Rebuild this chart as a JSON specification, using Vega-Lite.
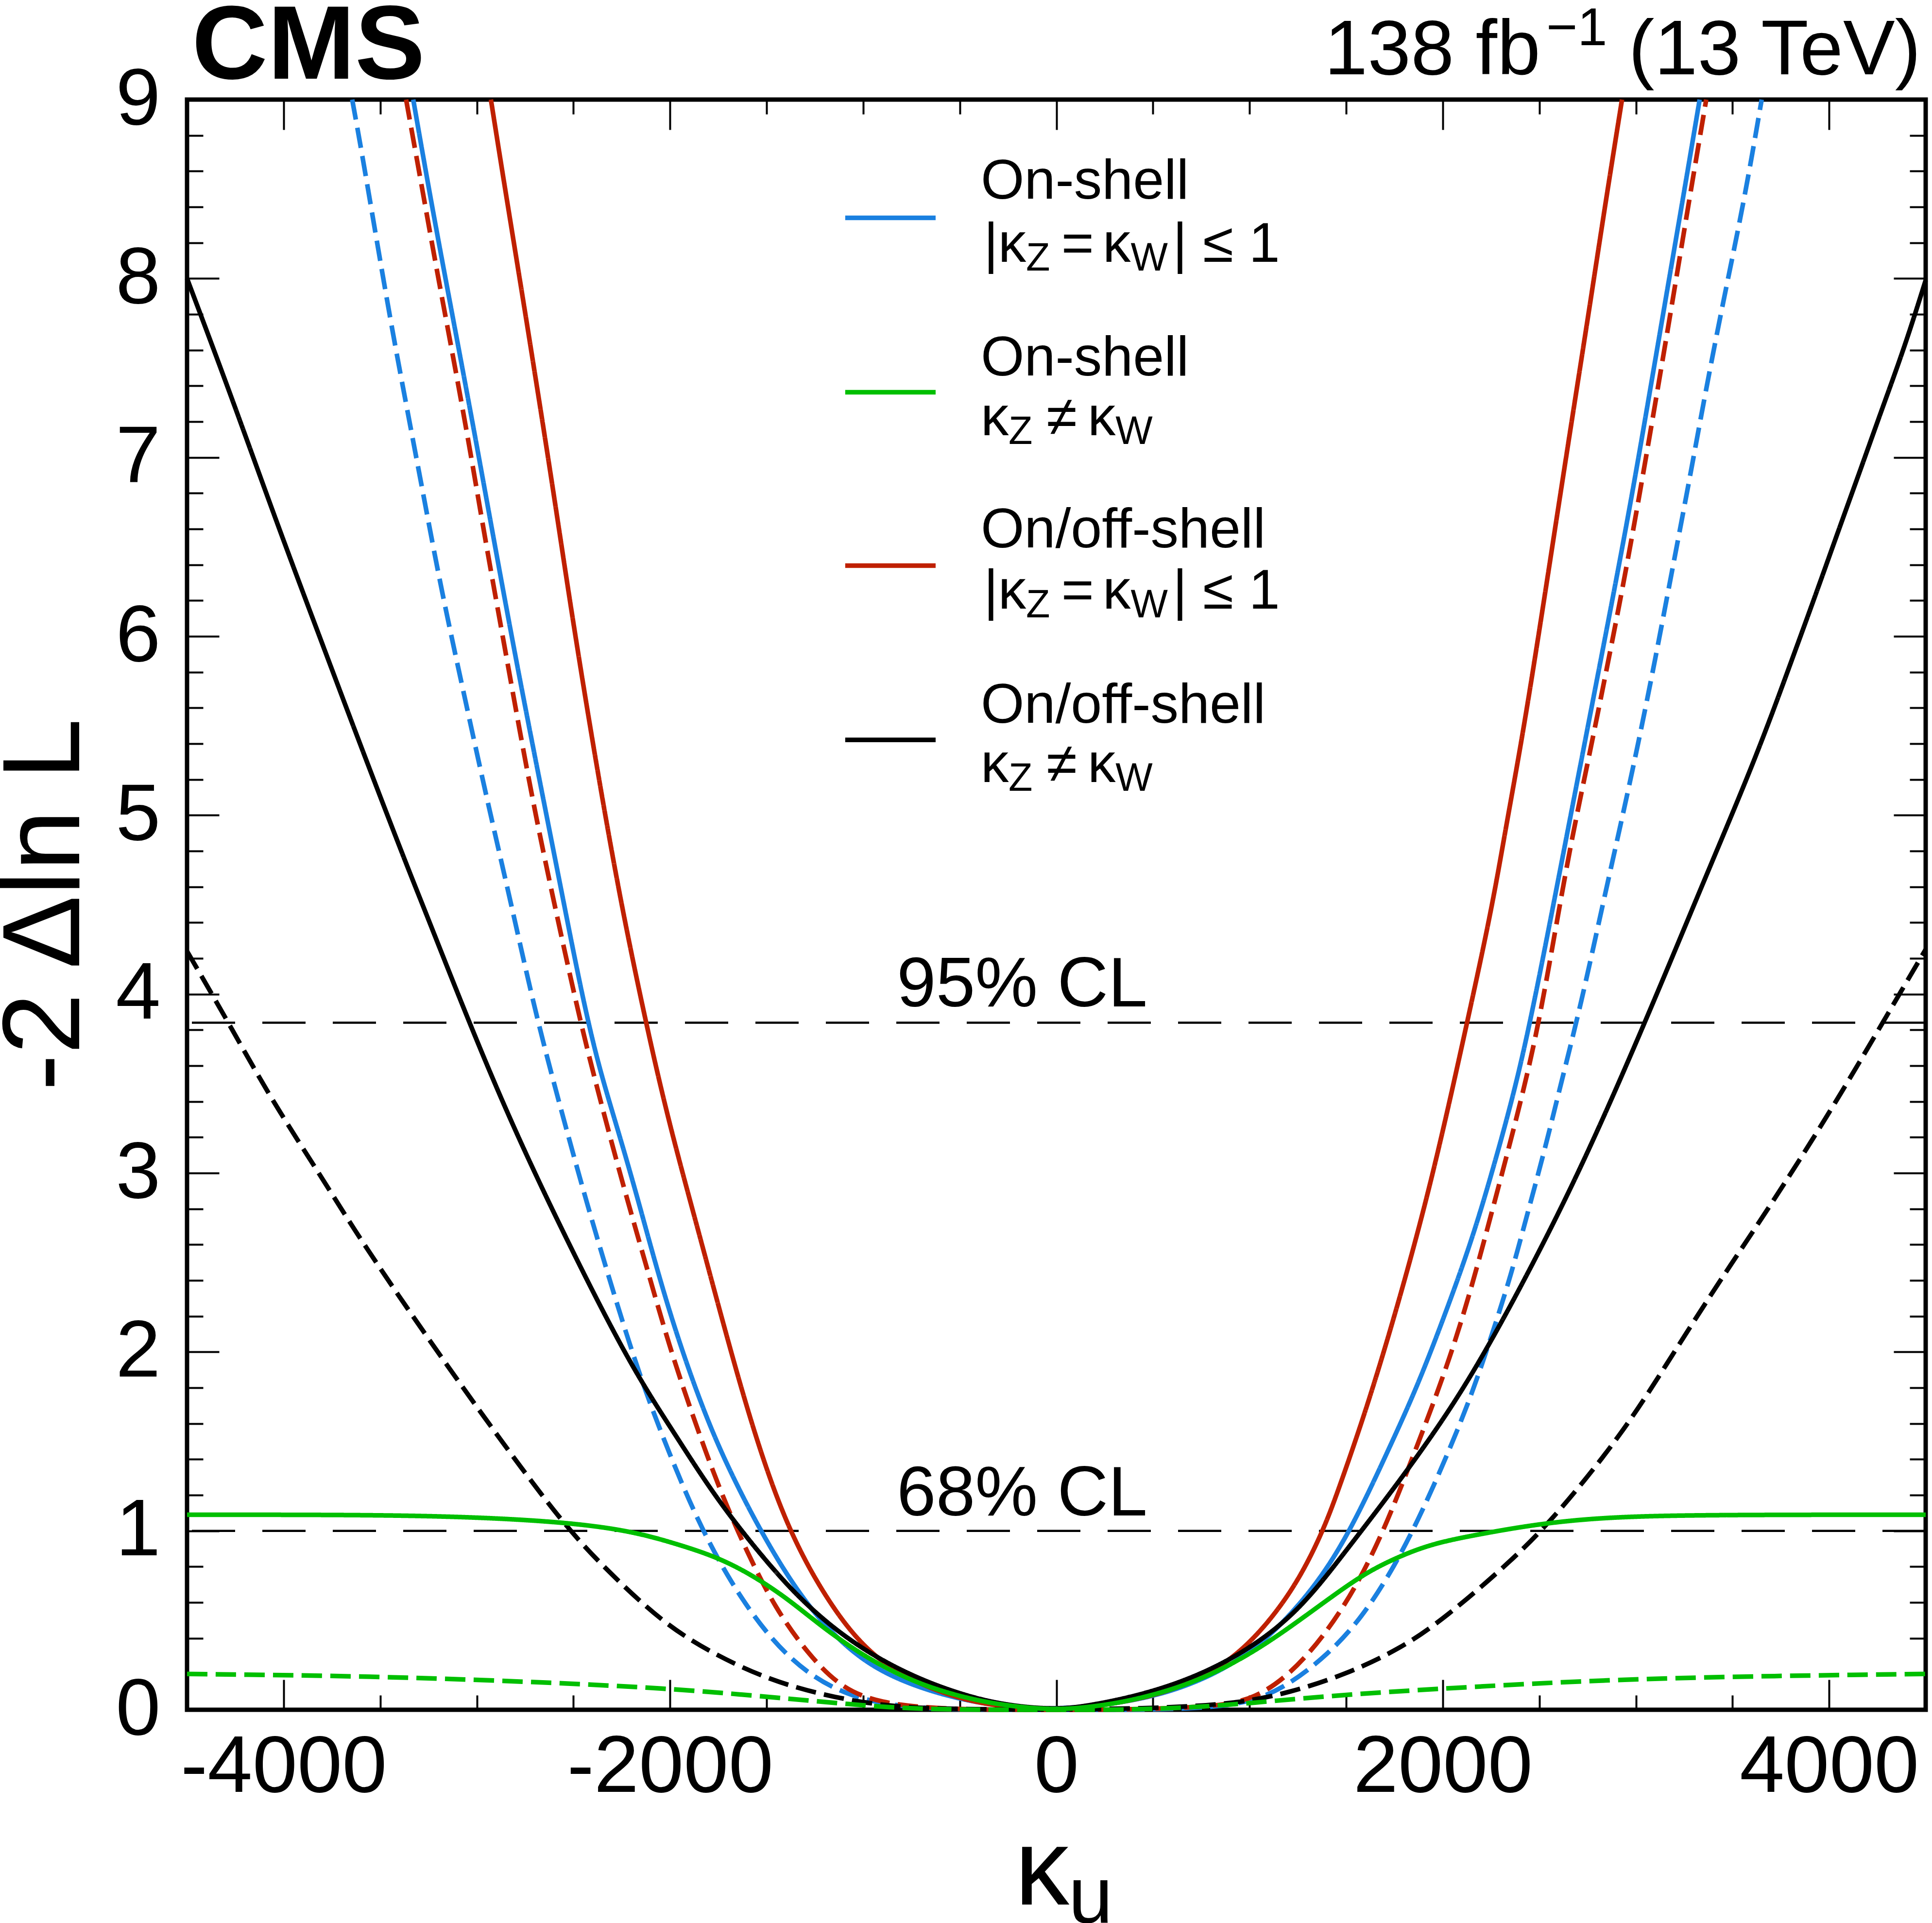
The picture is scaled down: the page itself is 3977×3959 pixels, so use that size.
{
  "$schema": "https://vega.github.io/schema/vega-lite/v6.json",
  "autosize": {"type": "none"},
  "padding": {"left": 385, "top": 205, "right": 13, "bottom": 439},
  "width": 3579,
  "height": 3315,
  "background": "white",
  "config": {
    "view": {"stroke": "black", "strokeWidth": 9},
    "font": "Liberation Sans"
  },
  "datasets": {
    "curves": [
      {"series": "onshell_eq", "kind": "observed", "k": -3329, "v": 9.0},
      {"series": "onshell_eq", "kind": "observed", "k": -3237, "v": 8.43},
      {"series": "onshell_eq", "kind": "observed", "k": -3122, "v": 7.77},
      {"series": "onshell_eq", "kind": "observed", "k": -3007, "v": 7.11},
      {"series": "onshell_eq", "kind": "observed", "k": -2892, "v": 6.42},
      {"series": "onshell_eq", "kind": "observed", "k": -2778, "v": 5.76},
      {"series": "onshell_eq", "kind": "observed", "k": -2663, "v": 5.13},
      {"series": "onshell_eq", "kind": "observed", "k": -2548, "v": 4.5},
      {"series": "onshell_eq", "kind": "observed", "k": -2462, "v": 4.03},
      {"series": "onshell_eq", "kind": "observed", "k": -2376, "v": 3.62},
      {"series": "onshell_eq", "kind": "observed", "k": -2275, "v": 3.26},
      {"series": "onshell_eq", "kind": "observed", "k": -2175, "v": 2.89},
      {"series": "onshell_eq", "kind": "observed", "k": -2060, "v": 2.43},
      {"series": "onshell_eq", "kind": "observed", "k": -1946, "v": 2.03},
      {"series": "onshell_eq", "kind": "observed", "k": -1802, "v": 1.6},
      {"series": "onshell_eq", "kind": "observed", "k": -1658, "v": 1.26},
      {"series": "onshell_eq", "kind": "observed", "k": -1486, "v": 0.91},
      {"series": "onshell_eq", "kind": "observed", "k": -1285, "v": 0.57},
      {"series": "onshell_eq", "kind": "observed", "k": -1055, "v": 0.31},
      {"series": "onshell_eq", "kind": "observed", "k": -826, "v": 0.166},
      {"series": "onshell_eq", "kind": "observed", "k": -539, "v": 0.066},
      {"series": "onshell_eq", "kind": "observed", "k": -280, "v": 0.017},
      {"series": "onshell_eq", "kind": "observed", "k": 0, "v": 0},
      {"series": "onshell_eq", "kind": "observed", "k": 344, "v": 0.037},
      {"series": "onshell_eq", "kind": "observed", "k": 632, "v": 0.11},
      {"series": "onshell_eq", "kind": "observed", "k": 919, "v": 0.25},
      {"series": "onshell_eq", "kind": "observed", "k": 1148, "v": 0.45},
      {"series": "onshell_eq", "kind": "observed", "k": 1378, "v": 0.74},
      {"series": "onshell_eq", "kind": "observed", "k": 1550, "v": 1.06},
      {"series": "onshell_eq", "kind": "observed", "k": 1722, "v": 1.46},
      {"series": "onshell_eq", "kind": "observed", "k": 1866, "v": 1.8},
      {"series": "onshell_eq", "kind": "observed", "k": 2009, "v": 2.2},
      {"series": "onshell_eq", "kind": "observed", "k": 2153, "v": 2.63},
      {"series": "onshell_eq", "kind": "observed", "k": 2268, "v": 3.05},
      {"series": "onshell_eq", "kind": "observed", "k": 2382, "v": 3.5},
      {"series": "onshell_eq", "kind": "observed", "k": 2469, "v": 3.93},
      {"series": "onshell_eq", "kind": "observed", "k": 2555, "v": 4.4},
      {"series": "onshell_eq", "kind": "observed", "k": 2641, "v": 4.88},
      {"series": "onshell_eq", "kind": "observed", "k": 2727, "v": 5.36},
      {"series": "onshell_eq", "kind": "observed", "k": 2813, "v": 5.84},
      {"series": "onshell_eq", "kind": "observed", "k": 2899, "v": 6.32},
      {"series": "onshell_eq", "kind": "observed", "k": 2985, "v": 6.82},
      {"series": "onshell_eq", "kind": "observed", "k": 3071, "v": 7.36},
      {"series": "onshell_eq", "kind": "observed", "k": 3158, "v": 7.91},
      {"series": "onshell_eq", "kind": "observed", "k": 3244, "v": 8.45},
      {"series": "onshell_eq", "kind": "observed", "k": 3330, "v": 9.0},

      {"series": "onshell_eq", "kind": "expected", "k": -3645, "v": 9.0},
      {"series": "onshell_eq", "kind": "expected", "k": -3596, "v": 8.71},
      {"series": "onshell_eq", "kind": "expected", "k": -3524, "v": 8.25},
      {"series": "onshell_eq", "kind": "expected", "k": -3438, "v": 7.71},
      {"series": "onshell_eq", "kind": "expected", "k": -3352, "v": 7.22},
      {"series": "onshell_eq", "kind": "expected", "k": -3266, "v": 6.73},
      {"series": "onshell_eq", "kind": "expected", "k": -3180, "v": 6.24},
      {"series": "onshell_eq", "kind": "expected", "k": -3065, "v": 5.67},
      {"series": "onshell_eq", "kind": "expected", "k": -2950, "v": 5.1},
      {"series": "onshell_eq", "kind": "expected", "k": -2821, "v": 4.5},
      {"series": "onshell_eq", "kind": "expected", "k": -2692, "v": 3.87},
      {"series": "onshell_eq", "kind": "expected", "k": -2548, "v": 3.29},
      {"series": "onshell_eq", "kind": "expected", "k": -2433, "v": 2.84},
      {"series": "onshell_eq", "kind": "expected", "k": -2290, "v": 2.32},
      {"series": "onshell_eq", "kind": "expected", "k": -2146, "v": 1.83},
      {"series": "onshell_eq", "kind": "expected", "k": -2003, "v": 1.43},
      {"series": "onshell_eq", "kind": "expected", "k": -1859, "v": 1.06},
      {"series": "onshell_eq", "kind": "expected", "k": -1687, "v": 0.71},
      {"series": "onshell_eq", "kind": "expected", "k": -1486, "v": 0.4},
      {"series": "onshell_eq", "kind": "expected", "k": -1285, "v": 0.195},
      {"series": "onshell_eq", "kind": "expected", "k": -1055, "v": 0.066},
      {"series": "onshell_eq", "kind": "expected", "k": -768, "v": 0.009},
      {"series": "onshell_eq", "kind": "expected", "k": -400, "v": 0},
      {"series": "onshell_eq", "kind": "expected", "k": 0, "v": 0},
      {"series": "onshell_eq", "kind": "expected", "k": 400, "v": 0},
      {"series": "onshell_eq", "kind": "expected", "k": 718, "v": 0.006},
      {"series": "onshell_eq", "kind": "expected", "k": 1005, "v": 0.037},
      {"series": "onshell_eq", "kind": "expected", "k": 1206, "v": 0.14},
      {"series": "onshell_eq", "kind": "expected", "k": 1407, "v": 0.31},
      {"series": "onshell_eq", "kind": "expected", "k": 1579, "v": 0.51},
      {"series": "onshell_eq", "kind": "expected", "k": 1751, "v": 0.8},
      {"series": "onshell_eq", "kind": "expected", "k": 1895, "v": 1.11},
      {"series": "onshell_eq", "kind": "expected", "k": 2038, "v": 1.46},
      {"series": "onshell_eq", "kind": "expected", "k": 2153, "v": 1.77},
      {"series": "onshell_eq", "kind": "expected", "k": 2253, "v": 2.09},
      {"series": "onshell_eq", "kind": "expected", "k": 2354, "v": 2.43},
      {"series": "onshell_eq", "kind": "expected", "k": 2440, "v": 2.78},
      {"series": "onshell_eq", "kind": "expected", "k": 2526, "v": 3.12},
      {"series": "onshell_eq", "kind": "expected", "k": 2612, "v": 3.5},
      {"series": "onshell_eq", "kind": "expected", "k": 2713, "v": 3.93},
      {"series": "onshell_eq", "kind": "expected", "k": 2828, "v": 4.5},
      {"series": "onshell_eq", "kind": "expected", "k": 2928, "v": 4.98},
      {"series": "onshell_eq", "kind": "expected", "k": 3014, "v": 5.41},
      {"series": "onshell_eq", "kind": "expected", "k": 3100, "v": 5.87},
      {"series": "onshell_eq", "kind": "expected", "k": 3186, "v": 6.36},
      {"series": "onshell_eq", "kind": "expected", "k": 3273, "v": 6.85},
      {"series": "onshell_eq", "kind": "expected", "k": 3359, "v": 7.36},
      {"series": "onshell_eq", "kind": "expected", "k": 3459, "v": 7.91},
      {"series": "onshell_eq", "kind": "expected", "k": 3560, "v": 8.43},
      {"series": "onshell_eq", "kind": "expected", "k": 3651, "v": 9.0},

      {"series": "onoff_eq", "kind": "observed", "k": -2927, "v": 9.0},
      {"series": "onoff_eq", "kind": "observed", "k": -2864, "v": 8.57},
      {"series": "onoff_eq", "kind": "observed", "k": -2778, "v": 8.0},
      {"series": "onoff_eq", "kind": "observed", "k": -2692, "v": 7.42},
      {"series": "onoff_eq", "kind": "observed", "k": -2605, "v": 6.82},
      {"series": "onoff_eq", "kind": "observed", "k": -2519, "v": 6.2},
      {"series": "onoff_eq", "kind": "observed", "k": -2433, "v": 5.62},
      {"series": "onoff_eq", "kind": "observed", "k": -2347, "v": 5.07},
      {"series": "onoff_eq", "kind": "observed", "k": -2247, "v": 4.47},
      {"series": "onoff_eq", "kind": "observed", "k": -2117, "v": 3.8},
      {"series": "onoff_eq", "kind": "observed", "k": -2003, "v": 3.27},
      {"series": "onoff_eq", "kind": "observed", "k": -1859, "v": 2.7},
      {"series": "onoff_eq", "kind": "observed", "k": -1715, "v": 2.12},
      {"series": "onoff_eq", "kind": "observed", "k": -1572, "v": 1.57},
      {"series": "onoff_eq", "kind": "observed", "k": -1400, "v": 1.03},
      {"series": "onoff_eq", "kind": "observed", "k": -1199, "v": 0.63},
      {"series": "onoff_eq", "kind": "observed", "k": -998, "v": 0.34},
      {"series": "onoff_eq", "kind": "observed", "k": -768, "v": 0.166},
      {"series": "onoff_eq", "kind": "observed", "k": -481, "v": 0.052},
      {"series": "onoff_eq", "kind": "observed", "k": -252, "v": 0.014},
      {"series": "onoff_eq", "kind": "observed", "k": 0, "v": 0},
      {"series": "onoff_eq", "kind": "observed", "k": 287, "v": 0.029},
      {"series": "onoff_eq", "kind": "observed", "k": 574, "v": 0.095},
      {"series": "onoff_eq", "kind": "observed", "k": 832, "v": 0.22},
      {"series": "onoff_eq", "kind": "observed", "k": 1033, "v": 0.4},
      {"series": "onoff_eq", "kind": "observed", "k": 1234, "v": 0.68},
      {"series": "onoff_eq", "kind": "observed", "k": 1378, "v": 0.99},
      {"series": "onoff_eq", "kind": "observed", "k": 1464, "v": 1.24},
      {"series": "onoff_eq", "kind": "observed", "k": 1608, "v": 1.69},
      {"series": "onoff_eq", "kind": "observed", "k": 1751, "v": 2.2},
      {"series": "onoff_eq", "kind": "observed", "k": 1895, "v": 2.76},
      {"series": "onoff_eq", "kind": "observed", "k": 2009, "v": 3.27},
      {"series": "onoff_eq", "kind": "observed", "k": 2124, "v": 3.83},
      {"series": "onoff_eq", "kind": "observed", "k": 2253, "v": 4.47},
      {"series": "onoff_eq", "kind": "observed", "k": 2325, "v": 4.92},
      {"series": "onoff_eq", "kind": "observed", "k": 2411, "v": 5.43},
      {"series": "onoff_eq", "kind": "observed", "k": 2497, "v": 6.01},
      {"series": "onoff_eq", "kind": "observed", "k": 2584, "v": 6.62},
      {"series": "onoff_eq", "kind": "observed", "k": 2670, "v": 7.22},
      {"series": "onoff_eq", "kind": "observed", "k": 2756, "v": 7.81},
      {"series": "onoff_eq", "kind": "observed", "k": 2842, "v": 8.42},
      {"series": "onoff_eq", "kind": "observed", "k": 2928, "v": 9.0},

      {"series": "onoff_eq", "kind": "expected", "k": -3366, "v": 9.0},
      {"series": "onoff_eq", "kind": "expected", "k": -3294, "v": 8.57},
      {"series": "onoff_eq", "kind": "expected", "k": -3208, "v": 8.05},
      {"series": "onoff_eq", "kind": "expected", "k": -3122, "v": 7.56},
      {"series": "onoff_eq", "kind": "expected", "k": -3036, "v": 7.05},
      {"series": "onoff_eq", "kind": "expected", "k": -2950, "v": 6.5},
      {"series": "onoff_eq", "kind": "expected", "k": -2864, "v": 5.99},
      {"series": "onoff_eq", "kind": "expected", "k": -2778, "v": 5.47},
      {"series": "onoff_eq", "kind": "expected", "k": -2692, "v": 4.98},
      {"series": "onoff_eq", "kind": "expected", "k": -2598, "v": 4.5},
      {"series": "onoff_eq", "kind": "expected", "k": -2462, "v": 3.83},
      {"series": "onoff_eq", "kind": "expected", "k": -2347, "v": 3.35},
      {"series": "onoff_eq", "kind": "expected", "k": -2232, "v": 2.89},
      {"series": "onoff_eq", "kind": "expected", "k": -2117, "v": 2.46},
      {"series": "onoff_eq", "kind": "expected", "k": -2003, "v": 2.03},
      {"series": "onoff_eq", "kind": "expected", "k": -1888, "v": 1.66},
      {"series": "onoff_eq", "kind": "expected", "k": -1744, "v": 1.23},
      {"series": "onoff_eq", "kind": "expected", "k": -1601, "v": 0.88},
      {"series": "onoff_eq", "kind": "expected", "k": -1457, "v": 0.57},
      {"series": "onoff_eq", "kind": "expected", "k": -1285, "v": 0.31},
      {"series": "onoff_eq", "kind": "expected", "k": -1113, "v": 0.12},
      {"series": "onoff_eq", "kind": "expected", "k": -912, "v": 0.037},
      {"series": "onoff_eq", "kind": "expected", "k": -625, "v": 0.006},
      {"series": "onoff_eq", "kind": "expected", "k": -300, "v": 0},
      {"series": "onoff_eq", "kind": "expected", "k": 0, "v": 0},
      {"series": "onoff_eq", "kind": "expected", "k": 300, "v": 0},
      {"series": "onoff_eq", "kind": "expected", "k": 832, "v": 0.014},
      {"series": "onoff_eq", "kind": "expected", "k": 1033, "v": 0.066},
      {"series": "onoff_eq", "kind": "expected", "k": 1206, "v": 0.195},
      {"series": "onoff_eq", "kind": "expected", "k": 1378, "v": 0.4},
      {"series": "onoff_eq", "kind": "expected", "k": 1550, "v": 0.68},
      {"series": "onoff_eq", "kind": "expected", "k": 1694, "v": 1.0},
      {"series": "onoff_eq", "kind": "expected", "k": 1808, "v": 1.31},
      {"series": "onoff_eq", "kind": "expected", "k": 1923, "v": 1.63},
      {"series": "onoff_eq", "kind": "expected", "k": 2038, "v": 1.97},
      {"series": "onoff_eq", "kind": "expected", "k": 2139, "v": 2.32},
      {"series": "onoff_eq", "kind": "expected", "k": 2239, "v": 2.72},
      {"series": "onoff_eq", "kind": "expected", "k": 2325, "v": 3.07},
      {"series": "onoff_eq", "kind": "expected", "k": 2411, "v": 3.43},
      {"series": "onoff_eq", "kind": "expected", "k": 2497, "v": 3.83},
      {"series": "onoff_eq", "kind": "expected", "k": 2598, "v": 4.45},
      {"series": "onoff_eq", "kind": "expected", "k": 2670, "v": 4.88},
      {"series": "onoff_eq", "kind": "expected", "k": 2756, "v": 5.32},
      {"series": "onoff_eq", "kind": "expected", "k": 2842, "v": 5.78},
      {"series": "onoff_eq", "kind": "expected", "k": 2928, "v": 6.25},
      {"series": "onoff_eq", "kind": "expected", "k": 3014, "v": 6.76},
      {"series": "onoff_eq", "kind": "expected", "k": 3100, "v": 7.3},
      {"series": "onoff_eq", "kind": "expected", "k": 3186, "v": 7.85},
      {"series": "onoff_eq", "kind": "expected", "k": 3273, "v": 8.42},
      {"series": "onoff_eq", "kind": "expected", "k": 3364, "v": 9.0},

      {"series": "onoff_neq", "kind": "observed", "k": -4500, "v": 8.0},
      {"series": "onoff_neq", "kind": "observed", "k": -4270, "v": 7.34},
      {"series": "onoff_neq", "kind": "observed", "k": -4041, "v": 6.65},
      {"series": "onoff_neq", "kind": "observed", "k": -3811, "v": 5.99},
      {"series": "onoff_neq", "kind": "observed", "k": -3581, "v": 5.33},
      {"series": "onoff_neq", "kind": "observed", "k": -3352, "v": 4.69},
      {"series": "onoff_neq", "kind": "observed", "k": -3273, "v": 4.48},
      {"series": "onoff_neq", "kind": "observed", "k": -3036, "v": 3.83},
      {"series": "onoff_neq", "kind": "observed", "k": -2806, "v": 3.24},
      {"series": "onoff_neq", "kind": "observed", "k": -2519, "v": 2.59},
      {"series": "onoff_neq", "kind": "observed", "k": -2203, "v": 1.92},
      {"series": "onoff_neq", "kind": "observed", "k": -1974, "v": 1.54},
      {"series": "onoff_neq", "kind": "observed", "k": -1773, "v": 1.2},
      {"series": "onoff_neq", "kind": "observed", "k": -1543, "v": 0.88},
      {"series": "onoff_neq", "kind": "observed", "k": -1314, "v": 0.6},
      {"series": "onoff_neq", "kind": "observed", "k": -1055, "v": 0.37},
      {"series": "onoff_neq", "kind": "observed", "k": -768, "v": 0.195},
      {"series": "onoff_neq", "kind": "observed", "k": -481, "v": 0.08},
      {"series": "onoff_neq", "kind": "observed", "k": -252, "v": 0.023},
      {"series": "onoff_neq", "kind": "observed", "k": 0, "v": 0},
      {"series": "onoff_neq", "kind": "observed", "k": 172, "v": 0.023},
      {"series": "onoff_neq", "kind": "observed", "k": 431, "v": 0.08},
      {"series": "onoff_neq", "kind": "observed", "k": 718, "v": 0.18},
      {"series": "onoff_neq", "kind": "observed", "k": 1005, "v": 0.34},
      {"series": "onoff_neq", "kind": "observed", "k": 1263, "v": 0.56},
      {"series": "onoff_neq", "kind": "observed", "k": 1493, "v": 0.88},
      {"series": "onoff_neq", "kind": "observed", "k": 1722, "v": 1.2},
      {"series": "onoff_neq", "kind": "observed", "k": 1952, "v": 1.54},
      {"series": "onoff_neq", "kind": "observed", "k": 2182, "v": 1.92},
      {"series": "onoff_neq", "kind": "observed", "k": 2497, "v": 2.55},
      {"series": "onoff_neq", "kind": "observed", "k": 2756, "v": 3.12},
      {"series": "onoff_neq", "kind": "observed", "k": 3043, "v": 3.83},
      {"series": "onoff_neq", "kind": "observed", "k": 3301, "v": 4.5},
      {"series": "onoff_neq", "kind": "observed", "k": 3445, "v": 4.87},
      {"series": "onoff_neq", "kind": "observed", "k": 3588, "v": 5.24},
      {"series": "onoff_neq", "kind": "observed", "k": 3703, "v": 5.56},
      {"series": "onoff_neq", "kind": "observed", "k": 3818, "v": 5.9},
      {"series": "onoff_neq", "kind": "observed", "k": 3933, "v": 6.24},
      {"series": "onoff_neq", "kind": "observed", "k": 4048, "v": 6.59},
      {"series": "onoff_neq", "kind": "observed", "k": 4162, "v": 6.93},
      {"series": "onoff_neq", "kind": "observed", "k": 4277, "v": 7.28},
      {"series": "onoff_neq", "kind": "observed", "k": 4392, "v": 7.62},
      {"series": "onoff_neq", "kind": "observed", "k": 4500, "v": 7.99},

      {"series": "onoff_neq", "kind": "expected", "k": -4500, "v": 4.24},
      {"series": "onoff_neq", "kind": "expected", "k": -4285, "v": 3.84},
      {"series": "onoff_neq", "kind": "expected", "k": -4069, "v": 3.42},
      {"series": "onoff_neq", "kind": "expected", "k": -3811, "v": 2.99},
      {"series": "onoff_neq", "kind": "expected", "k": -3639, "v": 2.69},
      {"series": "onoff_neq", "kind": "expected", "k": -3409, "v": 2.32},
      {"series": "onoff_neq", "kind": "expected", "k": -3151, "v": 1.92},
      {"series": "onoff_neq", "kind": "expected", "k": -2892, "v": 1.53},
      {"series": "onoff_neq", "kind": "expected", "k": -2548, "v": 1.03},
      {"series": "onoff_neq", "kind": "expected", "k": -2318, "v": 0.77},
      {"series": "onoff_neq", "kind": "expected", "k": -2031, "v": 0.48},
      {"series": "onoff_neq", "kind": "expected", "k": -1773, "v": 0.31},
      {"series": "onoff_neq", "kind": "expected", "k": -1486, "v": 0.166},
      {"series": "onoff_neq", "kind": "expected", "k": -1199, "v": 0.08},
      {"series": "onoff_neq", "kind": "expected", "k": -912, "v": 0.023},
      {"series": "onoff_neq", "kind": "expected", "k": -600, "v": 0.003},
      {"series": "onoff_neq", "kind": "expected", "k": 0, "v": 0},
      {"series": "onoff_neq", "kind": "expected", "k": 574, "v": 0.009},
      {"series": "onoff_neq", "kind": "expected", "k": 947, "v": 0.037},
      {"series": "onoff_neq", "kind": "expected", "k": 1206, "v": 0.095},
      {"series": "onoff_neq", "kind": "expected", "k": 1493, "v": 0.195},
      {"series": "onoff_neq", "kind": "expected", "k": 1780, "v": 0.34},
      {"series": "onoff_neq", "kind": "expected", "k": 2009, "v": 0.51},
      {"series": "onoff_neq", "kind": "expected", "k": 2354, "v": 0.83},
      {"series": "onoff_neq", "kind": "expected", "k": 2584, "v": 1.08},
      {"series": "onoff_neq", "kind": "expected", "k": 2928, "v": 1.54},
      {"series": "onoff_neq", "kind": "expected", "k": 3158, "v": 1.93},
      {"series": "onoff_neq", "kind": "expected", "k": 3387, "v": 2.32},
      {"series": "onoff_neq", "kind": "expected", "k": 3617, "v": 2.69},
      {"series": "onoff_neq", "kind": "expected", "k": 3847, "v": 3.07},
      {"series": "onoff_neq", "kind": "expected", "k": 4076, "v": 3.47},
      {"series": "onoff_neq", "kind": "expected", "k": 4277, "v": 3.84},
      {"series": "onoff_neq", "kind": "expected", "k": 4500, "v": 4.25},

      {"series": "onshell_neq", "kind": "observed", "k": -4500, "v": 1.09},
      {"series": "onshell_neq", "kind": "observed", "k": -3639, "v": 1.09},
      {"series": "onshell_neq", "kind": "observed", "k": -3065, "v": 1.08},
      {"series": "onshell_neq", "kind": "observed", "k": -2548, "v": 1.05},
      {"series": "onshell_neq", "kind": "observed", "k": -2203, "v": 1.0},
      {"series": "onshell_neq", "kind": "observed", "k": -1974, "v": 0.93},
      {"series": "onshell_neq", "kind": "observed", "k": -1773, "v": 0.86},
      {"series": "onshell_neq", "kind": "observed", "k": -1601, "v": 0.77},
      {"series": "onshell_neq", "kind": "observed", "k": -1400, "v": 0.63},
      {"series": "onshell_neq", "kind": "observed", "k": -1199, "v": 0.45},
      {"series": "onshell_neq", "kind": "observed", "k": -969, "v": 0.28},
      {"series": "onshell_neq", "kind": "observed", "k": -711, "v": 0.14},
      {"series": "onshell_neq", "kind": "observed", "k": -424, "v": 0.052},
      {"series": "onshell_neq", "kind": "observed", "k": -194, "v": 0.014},
      {"series": "onshell_neq", "kind": "observed", "k": 0, "v": 0},
      {"series": "onshell_neq", "kind": "observed", "k": 172, "v": 0.014},
      {"series": "onshell_neq", "kind": "observed", "k": 402, "v": 0.052},
      {"series": "onshell_neq", "kind": "observed", "k": 718, "v": 0.15},
      {"series": "onshell_neq", "kind": "observed", "k": 1005, "v": 0.31},
      {"series": "onshell_neq", "kind": "observed", "k": 1234, "v": 0.48},
      {"series": "onshell_neq", "kind": "observed", "k": 1435, "v": 0.64},
      {"series": "onshell_neq", "kind": "observed", "k": 1608, "v": 0.77},
      {"series": "onshell_neq", "kind": "observed", "k": 1780, "v": 0.86},
      {"series": "onshell_neq", "kind": "observed", "k": 1952, "v": 0.93},
      {"series": "onshell_neq", "kind": "observed", "k": 2182, "v": 0.98},
      {"series": "onshell_neq", "kind": "observed", "k": 2497, "v": 1.04},
      {"series": "onshell_neq", "kind": "observed", "k": 2871, "v": 1.08},
      {"series": "onshell_neq", "kind": "observed", "k": 3445, "v": 1.09},
      {"series": "onshell_neq", "kind": "observed", "k": 4500, "v": 1.09},

      {"series": "onshell_neq", "kind": "expected", "k": -4500, "v": 0.2},
      {"series": "onshell_neq", "kind": "expected", "k": -3639, "v": 0.19},
      {"series": "onshell_neq", "kind": "expected", "k": -2778, "v": 0.16},
      {"series": "onshell_neq", "kind": "expected", "k": -2003, "v": 0.12},
      {"series": "onshell_neq", "kind": "expected", "k": -1486, "v": 0.072},
      {"series": "onshell_neq", "kind": "expected", "k": -1055, "v": 0.029},
      {"series": "onshell_neq", "kind": "expected", "k": -768, "v": 0.006},
      {"series": "onshell_neq", "kind": "expected", "k": -400, "v": 0},
      {"series": "onshell_neq", "kind": "expected", "k": 0, "v": 0},
      {"series": "onshell_neq", "kind": "expected", "k": 400, "v": 0},
      {"series": "onshell_neq", "kind": "expected", "k": 718, "v": 0.014},
      {"series": "onshell_neq", "kind": "expected", "k": 1005, "v": 0.037},
      {"series": "onshell_neq", "kind": "expected", "k": 1435, "v": 0.08},
      {"series": "onshell_neq", "kind": "expected", "k": 2009, "v": 0.12},
      {"series": "onshell_neq", "kind": "expected", "k": 2871, "v": 0.17},
      {"series": "onshell_neq", "kind": "expected", "k": 3732, "v": 0.19},
      {"series": "onshell_neq", "kind": "expected", "k": 4500, "v": 0.2}
    ],
    "cl_lines": [{"v": 1.0}, {"v": 3.84}],
    "cl_text": [
      {"k": -826, "v": 3.93, "t": "95% CL"},
      {"k": -826, "v": 1.086, "t": "68% CL"}
    ],
    "legend_lines": [
      {"series": "onshell_eq", "k": -1093, "k2": -625, "v": 8.339},
      {"series": "onshell_neq", "k": -1093, "k2": -625, "v": 7.364},
      {"series": "onoff_eq", "k": -1093, "k2": -625, "v": 6.395},
      {"series": "onoff_neq", "k": -1093, "k2": -625, "v": 5.421}
    ],
    "legend_text": [
      {"k": -391, "v": 8.445, "t": "On-shell"},
      {"k": -376, "v": 8.092, "t": "|κ"},
      {"k": 26, "v": 8.092, "t": "="},
      {"k": 240, "v": 8.092, "t": "κ"},
      {"k": 602, "v": 8.092, "t": "| ≤ 1"},
      {"k": -391, "v": 7.457, "t": "On-shell"},
      {"k": -391, "v": 7.123, "t": "κ"},
      {"k": -52, "v": 7.123, "t": "≠"},
      {"k": 162, "v": 7.123, "t": "κ"},
      {"k": -391, "v": 6.498, "t": "On/off-shell"},
      {"k": -376, "v": 6.154, "t": "|κ"},
      {"k": 26, "v": 6.154, "t": "="},
      {"k": 240, "v": 6.154, "t": "κ"},
      {"k": 602, "v": 6.154, "t": "| ≤ 1"},
      {"k": -391, "v": 5.518, "t": "On/off-shell"},
      {"k": -391, "v": 5.185, "t": "κ"},
      {"k": -52, "v": 5.185, "t": "≠"},
      {"k": 162, "v": 5.185, "t": "κ"}
    ],
    "legend_sub": [
      {"k": -157, "v": 8.092, "t": "Z"},
      {"k": 385, "v": 8.092, "t": "W"},
      {"k": -248, "v": 7.123, "t": "Z"},
      {"k": 306, "v": 7.123, "t": "W"},
      {"k": -157, "v": 6.154, "t": "Z"},
      {"k": 385, "v": 6.154, "t": "W"},
      {"k": -248, "v": 5.185, "t": "Z"},
      {"k": 306, "v": 5.185, "t": "W"}
    ],
    "cms": [{"k": -4475, "v": 9.118, "t": "CMS"}],
    "lumi_main": [
      {"k": 2506, "v": 9.142, "t": "138 fb"},
      {"k": 4475, "v": 9.142, "t": "(13 TeV)"}
    ],
    "lumi_sup": [{"k": 2536, "v": 9.305, "t": "−1"}],
    "xtitle_main": [{"k": -215, "v": -1.088, "t": "κ"}],
    "xtitle_sub": [{"k": 62, "v": -1.189, "t": "u"}]
  },
  "resolve": {"axis": {"x": "independent", "y": "independent"}},
  "layer": [
    {
      "data": {"name": "cl_lines"},
      "mark": {"type": "rule", "color": "black", "strokeWidth": 4.5, "strokeDash": [89, 56]},
      "encoding": {
        "y": {"field": "v", "type": "quantitative", "scale": {"domain": [0, 9], "nice": false, "zero": false}, "axis": null}
      }
    },
    {
      "data": {"name": "curves"},
      "mark": {"type": "line", "strokeWidth": 9.5, "interpolate": "basis"},
      "encoding": {
        "x": {
          "field": "k", "type": "quantitative",
          "scale": {"domain": [-4500, 4500], "nice": false, "zero": false},
          "axis": {
            "orient": "bottom",
            "values": [-4000, -3500, -3000, -2500, -2000, -1500, -1000, -500, 0, 500, 1000, 1500, 2000, 2500, 3000, 3500, 4000],
            "domain": false, "grid": false, "title": null,
            "tickColor": "black", "tickWidth": 4,
            "tickSize": {"condition": {"test": "datum.value % 2000 === 0", "value": -62}, "value": -30},
            "labelExpr": "datum.value % 2000 === 0 ? '' + datum.value : ''",
            "labelFont": "Liberation Sans", "labelFontSize": 166, "labelColor": "black",
            "labelPadding": 99, "labelLimit": 0, "labelFlush": false, "labelOverlap": false, "labelBound": false
          }
        },
        "y": {
          "field": "v", "type": "quantitative",
          "scale": {"domain": [0, 9], "nice": false, "zero": false},
          "axis": {
            "orient": "left",
            "values": [0, 0.2, 0.4, 0.6, 0.8, 1, 1.2, 1.4, 1.6, 1.8, 2, 2.2, 2.4, 2.6, 2.8, 3, 3.2, 3.4, 3.6, 3.8, 4, 4.2, 4.4, 4.6, 4.8, 5, 5.2, 5.4, 5.6, 5.8, 6, 6.2, 6.4, 6.6, 6.8, 7, 7.2, 7.4, 7.6, 7.8, 8, 8.2, 8.4, 8.6, 8.8, 9],
            "domain": false, "grid": false,
            "tickColor": "black", "tickWidth": 4,
            "tickSize": {"condition": {"test": "datum.value === round(datum.value)", "value": -66}, "value": -33},
            "labelExpr": "datum.value === round(datum.value) ? '' + datum.value : ''",
            "labelFont": "Liberation Sans", "labelFontSize": 166, "labelColor": "black",
            "labelPadding": 121, "labelLimit": 0, "labelFlush": false, "labelOverlap": false, "labelBound": false,
            "title": "-2 Δln L",
            "titleFont": "Liberation Sans", "titleFontSize": 226, "titleFontWeight": "normal", "titleColor": "black",
            "titleAngle": 270, "titleAlign": "center", "titleBaseline": "alphabetic",
            "titleX": -223, "titleY": 1657, "titleLimit": 0
          }
        },
        "color": {
          "field": "series", "type": "nominal",
          "scale": {"domain": ["onshell_eq", "onshell_neq", "onoff_eq", "onoff_neq"], "range": ["#1A80E0", "#00BF00", "#BF2000", "#000000"]},
          "legend": null
        },
        "strokeDash": {
          "field": "kind", "type": "nominal",
          "scale": {"domain": ["observed", "expected"], "range": [[1, 0], [42, 17]]},
          "legend": null
        }
      }
    },
    {
      "data": {"name": "legend_lines"},
      "mark": {"type": "rule", "strokeWidth": 9.5},
      "encoding": {
        "x": {"field": "k", "type": "quantitative", "axis": null},
        "x2": {"field": "k2"},
        "y": {"field": "v", "type": "quantitative", "axis": null},
        "color": {"field": "series", "type": "nominal", "legend": null}
      }
    },
    {
      "data": {"name": "legend_text"},
      "mark": {"type": "text", "align": "left", "baseline": "alphabetic", "font": "Liberation Sans", "fontSize": 115, "color": "black"},
      "encoding": {
        "x": {"field": "k", "type": "quantitative", "axis": null},
        "y": {"field": "v", "type": "quantitative", "axis": null},
        "text": {"field": "t"}
      }
    },
    {
      "data": {"name": "legend_sub"},
      "mark": {"type": "text", "align": "left", "baseline": "alphabetic", "font": "Liberation Sans", "fontSize": 81, "dy": 18, "color": "black"},
      "encoding": {
        "x": {"field": "k", "type": "quantitative", "axis": null},
        "y": {"field": "v", "type": "quantitative", "axis": null},
        "text": {"field": "t"}
      }
    },
    {
      "data": {"name": "cl_text"},
      "mark": {"type": "text", "align": "left", "baseline": "alphabetic", "font": "Liberation Sans", "fontSize": 145, "color": "black"},
      "encoding": {
        "x": {
          "field": "k", "type": "quantitative",
          "axis": {
            "orient": "top", "labels": false, "domain": false, "grid": false, "title": null,
            "values": [-4000, -3500, -3000, -2500, -2000, -1500, -1000, -500, 0, 500, 1000, 1500, 2000, 2500, 3000, 3500, 4000],
            "tickColor": "black", "tickWidth": 4,
            "tickSize": {"condition": {"test": "datum.value % 2000 === 0", "value": -62}, "value": -30}
          }
        },
        "y": {
          "field": "v", "type": "quantitative",
          "axis": {
            "orient": "right", "labels": false, "domain": false, "grid": false, "title": null,
            "values": [0, 0.2, 0.4, 0.6, 0.8, 1, 1.2, 1.4, 1.6, 1.8, 2, 2.2, 2.4, 2.6, 2.8, 3, 3.2, 3.4, 3.6, 3.8, 4, 4.2, 4.4, 4.6, 4.8, 5, 5.2, 5.4, 5.6, 5.8, 6, 6.2, 6.4, 6.6, 6.8, 7, 7.2, 7.4, 7.6, 7.8, 8, 8.2, 8.4, 8.6, 8.8, 9],
            "tickColor": "black", "tickWidth": 4,
            "tickSize": {"condition": {"test": "datum.value === round(datum.value)", "value": -66}, "value": -33}
          }
        },
        "text": {"field": "t"}
      }
    },
    {
      "data": {"name": "cms"},
      "mark": {"type": "text", "align": "left", "baseline": "alphabetic", "font": "Liberation Sans", "fontWeight": "bold", "fontSize": 216, "color": "black"},
      "encoding": {
        "x": {"field": "k", "type": "quantitative", "axis": null},
        "y": {"field": "v", "type": "quantitative", "axis": null},
        "text": {"field": "t"}
      }
    },
    {
      "data": {"name": "lumi_main"},
      "mark": {"type": "text", "align": "right", "baseline": "alphabetic", "font": "Liberation Sans", "fontSize": 160, "color": "black"},
      "encoding": {
        "x": {"field": "k", "type": "quantitative", "axis": null},
        "y": {"field": "v", "type": "quantitative", "axis": null},
        "text": {"field": "t"}
      }
    },
    {
      "data": {"name": "lumi_sup"},
      "mark": {"type": "text", "align": "left", "baseline": "alphabetic", "font": "Liberation Sans", "fontSize": 110, "color": "black"},
      "encoding": {
        "x": {"field": "k", "type": "quantitative", "axis": null},
        "y": {"field": "v", "type": "quantitative", "axis": null},
        "text": {"field": "t"}
      }
    },
    {
      "data": {"name": "xtitle_main"},
      "mark": {"type": "text", "align": "left", "baseline": "alphabetic", "font": "Liberation Sans", "fontSize": 224, "color": "black"},
      "encoding": {
        "x": {"field": "k", "type": "quantitative", "axis": null},
        "y": {"field": "v", "type": "quantitative", "axis": null},
        "text": {"field": "t"}
      }
    },
    {
      "data": {"name": "xtitle_sub"},
      "mark": {"type": "text", "align": "left", "baseline": "alphabetic", "font": "Liberation Sans", "fontSize": 165, "color": "black"},
      "encoding": {
        "x": {"field": "k", "type": "quantitative", "axis": null},
        "y": {"field": "v", "type": "quantitative", "axis": null},
        "text": {"field": "t"}
      }
    }
  ]
}
